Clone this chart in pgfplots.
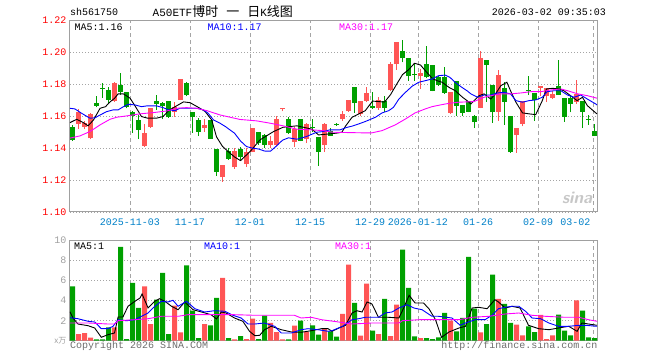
\documentclass[border=0pt]{standalone}
\usepackage{fontspec}
\setmainfont{Liberation Sans}
\setmonofont{Liberation Mono}
\newfontfamily\cjk{Noto Sans CJK SC}
\usepackage{pgfplots}
\usepackage{pgfplotstable}
\pgfplotsset{compat=1.18}
\definecolor{kred}{RGB}{255,85,85}
\definecolor{kgreen}{RGB}{0,160,0}
\definecolor{framegray}{RGB}{160,160,160}
\definecolor{gridgray}{RGB}{165,165,165}
\definecolor{datblue}{RGB}{0,128,200}
\definecolor{mamag}{RGB}{255,0,255}
\definecolor{txtgray}{RGB}{110,110,110}
\definecolor{volgray}{RGB}{160,160,160}
\newcommand{\mono}{\ttfamily\fontsize{10bp}{12bp}\selectfont}

\pgfplotstableread{
i o h l c v
1 1.1550 1.1648 1.1523 1.1628 0.67
2 1.1535 1.1570 1.1520 1.1555 0.77
3 1.1462 1.1620 1.1455 1.1614 0.30
7 1.1697 1.1816 1.1690 1.1806 1.34
12 1.1415 1.1553 1.1410 1.1498 5.44
13 1.1535 1.1654 1.1529 1.1650 1.67
17 1.1628 1.1690 1.1598 1.1660 3.50
18 1.1702 1.1835 1.1700 1.1833 0.83
22 1.1528 1.1580 1.1503 1.1545 1.67
25 1.1217 1.1295 1.1190 1.1294 6.27
27 1.1280 1.1400 1.1270 1.1385 0.14
29 1.1300 1.1400 1.1282 1.1375 0.17
30 1.1379 1.1527 1.1373 1.1525 2.20
33 1.1418 1.1477 1.1400 1.1446 1.77
34 1.1421 1.1602 1.1415 1.1581 0.87
35 1.1643 1.1652 1.1630 1.1650 0.14
37 1.1438 1.1535 1.1410 1.1519 1.50
39 1.1456 1.1556 1.1431 1.1552 0.87
42 1.1417 1.1556 1.1375 1.1552 1.27
45 1.1580 1.1635 1.1572 1.1612 2.67
46 1.1632 1.1702 1.1628 1.1701 7.60
48 1.1612 1.1696 1.1601 1.1695 0.50
49 1.1696 1.1783 1.1690 1.1746 5.70
51 1.1650 1.1719 1.1642 1.1701 0.67
53 1.1762 1.1940 1.1756 1.1925 0.47
54 1.1925 1.2065 1.1892 1.2065 3.60
58 1.1855 1.1896 1.1771 1.1870 0.27
63 1.1621 1.1750 1.1615 1.1750 2.00
68 1.1650 1.2006 1.1650 1.1963 0.83
71 1.1629 1.1892 1.1573 1.1858 4.17
74 1.1483 1.1527 1.1371 1.1527 1.60
75 1.1552 1.1698 1.1537 1.1698 0.54
78 1.1777 1.1792 1.1729 1.1792 2.57
79 1.1729 1.1775 1.1688 1.1775 0.17
80 1.1713 1.1760 1.1708 1.1740 0.54
84 1.1692 1.1829 1.1677 1.1740 4.04
}\redtab

\pgfplotstableread{
i o h l c v
0 1.1535 1.1545 1.1445 1.1450 5.44
4 1.1684 1.1724 1.1656 1.1666 0.14
5 1.1778 1.1808 1.1715 1.1772 0.14
6 1.1765 1.1781 1.1681 1.1701 1.34
8 1.1795 1.1868 1.1735 1.1752 9.37
9 1.1753 1.1755 1.1650 1.1660 0.17
10 1.1628 1.1632 1.1495 1.1600 5.77
11 1.1576 1.1607 1.1457 1.1514 3.27
14 1.1696 1.1733 1.1640 1.1677 4.10
15 1.1681 1.1688 1.1580 1.1667 6.77
16 1.1695 1.1697 1.1590 1.1593 0.67
19 1.1806 1.1816 1.1724 1.1734 7.54
20 1.1628 1.1629 1.1497 1.1597 3.00
21 1.1576 1.1586 1.1475 1.1503 0.27
23 1.1576 1.1578 1.1458 1.1460 1.54
24 1.1394 1.1395 1.1225 1.1252 4.27
26 1.1380 1.1400 1.1327 1.1335 0.27
28 1.1396 1.1406 1.1327 1.1346 0.47
31 1.1500 1.1504 1.1420 1.1431 0.17
32 1.1483 1.1490 1.1400 1.1421 2.50
36 1.1583 1.1598 1.1488 1.1494 0.14
38 1.1583 1.1585 1.1442 1.1448 2.00
40 1.1535 1.1583 1.1500 1.1525 1.54
41 1.1467 1.1467 1.1290 1.1379 0.60
43 1.1510 1.1525 1.1475 1.1479 0.93
44 1.1548 1.1558 1.1542 1.1545 0.40
47 1.1783 1.1783 1.1621 1.1683 3.77
50 1.1663 1.1752 1.1644 1.1652 1.00
52 1.1694 1.1725 1.1627 1.1652 4.17
55 1.2008 1.2080 1.1938 1.1963 9.10
56 1.1963 1.1965 1.1823 1.1850 5.27
57 1.1860 1.1927 1.1823 1.1856 0.44
59 1.1927 1.2042 1.1838 1.1844 0.27
60 1.1920 1.1920 1.1756 1.1760 0.17
61 1.1844 1.1854 1.1792 1.1796 0.34
62 1.1844 1.1910 1.1740 1.1746 2.77
64 1.1823 1.1823 1.1604 1.1663 0.93
65 1.1673 1.1673 1.1604 1.1621 2.27
66 1.1698 1.1698 1.1625 1.1627 8.37
67 1.1600 1.1610 1.1525 1.1563 3.20
69 1.1954 1.1954 1.1692 1.1923 1.67
70 1.1796 1.1796 1.1558 1.1625 6.60
72 1.1775 1.1813 1.1546 1.1692 3.67
73 1.1600 1.1600 1.1371 1.1375 1.77
76 1.1762 1.1854 1.1733 1.1758 1.44
77 1.1744 1.1744 1.1573 1.1704 0.87
81 1.1792 1.1954 1.1733 1.1733 2.60
82 1.1713 1.1713 1.1567 1.1594 1.00
83 1.1713 1.1729 1.1625 1.1677 0.54
85 1.1694 1.1694 1.1525 1.1629 3.00
86 1.1582 1.1608 1.1546 1.1578 0.34
87 1.1510 1.1552 1.1475 1.1475 0.27
}\greentab

\pgfplotsset{
  kpanel/.style={
    scale only axis, width=527bp,
    xmin=-0.417, xmax=87.417,
    axis line style={draw=framegray, line width=1bp},
    tick style={draw=none}, major tick length=0pt,
    xtick={9.583,19.583,29.583,39.583,49.583,57.583,67.583,77.583},
    extra x ticks={86.75},
    xmajorgrids, ymajorgrids,
    x grid style={draw=gridgray, dash pattern=on 4bp off 3bp, line width=0.9bp},
    y grid style={draw=gridgray, dash pattern=on 1bp off 2bp, line width=0.9bp},
  },
}

\begin{document}
\begin{tikzpicture}
\path[use as bounding box] (0bp,0bp) rectangle (660bp,360bp);

% ---------- price panel ----------
\begin{axis}[kpanel,
  at={(70bp,148bp)}, anchor=south west, height=191.5bp,
  ymin=1.10, ymax=1.22,
  xticklabels={2025-11-03,11-17,12-01,12-15,12-29,2026-01-12,01-26,02-09},
  extra x tick labels={03-02},
  extra x tick style={grid=major, xticklabel style={anchor=north east, xshift=1bp}},
  xticklabel style={font=\mono, text=datblue, yshift=-3bp},
  ytick={1.10,1.12,1.14,1.16,1.18,1.20,1.22},
  yticklabels={1.10,1.12,1.14,1.16,1.18,1.20,1.22},
  yticklabel style={font=\mono, text=red},
]
% wicks
\addplot[draw=none, mark=none, forget plot,
  error bars/.cd, y dir=plus, y explicit, error mark=none,
  error bar style={draw=kred, line width=1bp, solid}]
  table[x=i, y=l, y error plus expr={\thisrow{h}-\thisrow{l}}] {\redtab};
\addplot[draw=none, mark=none, forget plot,
  error bars/.cd, y dir=plus, y explicit, error mark=none,
  error bar style={draw=kgreen, line width=1bp, solid}]
  table[x=i, y=l, y error plus expr={\thisrow{h}-\thisrow{l}}] {\greentab};
% bodies
\addplot[draw=none, mark=none, forget plot,
  error bars/.cd, y dir=plus, y explicit, error mark=none,
  error bar style={draw=kred, line width=5bp, solid, line cap=butt}]
  table[x=i, y=o, y error plus expr={max(\thisrow{c}-\thisrow{o},0.0006)}] {\redtab};
\addplot[draw=none, mark=none, forget plot,
  error bars/.cd, y dir=plus, y explicit, error mark=none,
  error bar style={draw=kgreen, line width=5bp, solid, line cap=butt}]
  table[x=i, y=c, y error plus expr={max(\thisrow{o}-\thisrow{c},0.0006)}] {\greentab};

% MA5
\addplot[black, line width=0.9bp, mark=none] coordinates {
(-0.42,1.1560) (0.7,1.1581) (1.8,1.1560) (2.6,1.1540) (3.5,1.1577) (4.6,1.1650) (5.5,1.1660) (6.25,1.1690) (7.0,1.1712) (7.6,1.1740) (8.5,1.1740) (9.6,1.1713) (10.5,1.1660) (11.5,1.1598) (12.5,1.1588) (14,1.1588) (15.1,1.1598) (16,1.1635) (17.1,1.1660) (18.5,1.1690) (19.6,1.1685) (21.25,1.1650) (22.1,1.1630) (23.2,1.1577) (24,1.1471) (25,1.1411) (26,1.1377) (27,1.1345) (28,1.1322) (29.6,1.1379) (31.25,1.1452) (33.5,1.1504) (35.1,1.1531) (37.4,1.1540) (38.5,1.1531) (39.9,1.1519) (41,1.1483) (42.4,1.1488) (44,1.1494) (44.9,1.1500) (45.5,1.1538) (46.6,1.1594) (48.8,1.1635) (50,1.1695) (52,1.1689) (53,1.1735) (54,1.1799) (55,1.1861) (56,1.1891) (57,1.1932) (58,1.1921) (59,1.1877) (60,1.1836) (60.75,1.1823) (61.6,1.1813) (62.75,1.1781) (63.8,1.1760) (65,1.1719) (65.75,1.1698) (66.4,1.1677) (67.75,1.1729) (68.6,1.1740) (69.7,1.1708) (70.5,1.1740) (71.4,1.1792) (72.4,1.1813) (73,1.1760) (73.9,1.1688) (75,1.1621) (76.1,1.1615) (77.2,1.1610) (78.3,1.1698) (79,1.1771) (80,1.1775) (81.1,1.1771) (81.9,1.1760) (83,1.1729) (84.1,1.1698) (85,1.1719) (85.8,1.1667) (87.2,1.1621) (87.42,1.1615)
};
% MA10
\addplot[blue, line width=0.9bp, mark=none] coordinates {
(-0.42,1.1650) (0.4,1.1646) (1.5,1.1619) (2.9,1.1588) (3.75,1.1590) (4.6,1.1608) (5.7,1.1629) (6.8,1.1640) (7.6,1.1640) (8.5,1.1660) (9.3,1.1675) (10.4,1.1671) (11.5,1.1660) (12.4,1.1665) (14,1.1665) (15.1,1.1654) (16,1.1640) (17.1,1.1635) (17.9,1.1650) (19,1.1650) (20.7,1.1650) (21.8,1.1640) (22.6,1.1619) (23.5,1.1577) (24.6,1.1556) (25.5,1.1535) (26,1.1521) (27,1.1494) (28,1.1445) (29,1.1410) (30,1.1400) (31,1.1395) (32,1.1382) (33,1.1381) (34,1.1414) (35,1.1450) (36,1.1465) (37.4,1.1456) (39,1.1473) (40.7,1.1500) (41.8,1.1504) (42.9,1.1515) (44.6,1.1515) (45.7,1.1530) (46.6,1.1538) (47.7,1.1552) (48.8,1.1567) (50.5,1.1594) (51.6,1.1621) (52.7,1.1635) (53.5,1.1656) (54.4,1.1708) (55.5,1.1750) (56.6,1.1788) (57.7,1.1813) (58.8,1.1823) (59.9,1.1833) (61,1.1854) (62.1,1.1858) (62.9,1.1844) (63.75,1.1813) (64.9,1.1781) (65.75,1.1760) (66.4,1.1740) (67.5,1.1719) (68.6,1.1733) (69.7,1.1733) (70.8,1.1746) (71.9,1.1750) (73,1.1740) (73.9,1.1698) (75,1.1688) (76.1,1.1698) (77.2,1.1702) (78.3,1.1719) (79.1,1.1754) (80.25,1.1760) (81.4,1.1760) (82.5,1.1733) (83.6,1.1719) (84.7,1.1733) (85.8,1.1708) (87.2,1.1677) (87.42,1.1671)
};
% MA30
\addplot[mamag, line width=0.9bp, mark=none] coordinates {
(-0.42,1.1463) (1.25,1.1477) (2.9,1.1504) (4.6,1.1546) (6.25,1.1581) (7.4,1.1594) (9,1.1602) (11.25,1.1615) (13.5,1.1623) (15.7,1.1633) (17.4,1.1650) (19,1.1654) (20.7,1.1650) (22.4,1.1635) (24.6,1.1608) (26.25,1.1594) (27.9,1.1580) (30.7,1.1571) (33,1.1556) (35.1,1.1540) (37.4,1.1519) (39.6,1.1515) (41.8,1.1510) (43.25,1.1500) (45.5,1.1498) (48.5,1.1496) (49.9,1.1496) (51.6,1.1510) (53.8,1.1546) (55.5,1.1583) (57.1,1.1621) (58.8,1.1646) (59.9,1.1660) (61.6,1.1673) (62.75,1.1681) (64.4,1.1688) (66.9,1.1692) (68.6,1.1719) (70.25,1.1733) (71.4,1.1740) (73,1.1740) (74.75,1.1746) (76.4,1.1754) (78.1,1.1754) (79.75,1.1765) (81.4,1.1771) (82.5,1.1760) (84.25,1.1740) (85.8,1.1729) (87.42,1.1713)
};
\end{axis}

% ---------- volume panel ----------
\begin{axis}[kpanel,
  at={(70bp,19.3bp)}, anchor=south west, height=100bp,
  ymin=0, ymax=10,
  xticklabels={}, extra x tick labels={},
  extra x tick style={grid=major},
  ytick={0,2,4,6,8,10},
  yticklabels={{\cjk\fontsize{8bp}{9bp}\selectfont x万},2,4,6,8,10},
  yticklabel style={font=\mono, text=volgray},
]
\addplot[ybar, bar width=5bp, bar shift=0pt, fill=kred, draw=none] table[x=i, y=v] {\redtab};
\addplot[ybar, bar width=5bp, bar shift=0pt, fill=kgreen, draw=none] table[x=i, y=v] {\greentab};
% vol MA5
\addplot[black, line width=0.9bp, mark=none] coordinates {
(-0.42,2.9) (0.08,2.27) (0.9,1.67) (2.6,1.5) (3.7,1.27) (4.8,0.34) (5.9,0.6) (7.0,0.77) (7.6,2.37) (8.4,2.37) (9.25,3.44) (10.4,3.94) (11.25,4.27) (11.6,4.67) (12.0,4.1) (12.6,3.27) (13.7,3.94) (14.5,4.2) (15.4,3.94) (16.5,3.44) (17.6,3.1) (18.7,3.87) (20.1,3.1) (21.5,2.87) (23.1,2.6) (24,2.17) (24.8,2.87) (25.6,2.77) (27,2.27) (28.4,1.94) (29.5,0.94) (30.4,0.5) (31.2,0.54) (32,1.1) (33.1,1.44) (34.8,1.1) (36.5,0.87) (38.1,0.84) (39.8,1.0) (41.5,1.2) (42.6,1.2) (43.25,0.94) (44.4,1.27) (45.5,1.54) (46.6,2.77) (47.4,3.0) (48.25,2.87) (49.1,3.87) (49.9,3.67) (51,2.34) (52.7,2.34) (54.4,2.27) (55.2,3.27) (56.1,4.54) (57.1,3.77) (58.5,3.77) (59.4,3.2) (60.5,2.1) (61.5,0.34) (62.75,0.87) (64.4,1.27) (65.5,1.44) (66.6,3.27) (67.7,3.34) (69.1,3.2) (70.4,4.1) (71,3.87) (72.1,3.27) (73.25,3.44) (74.6,3.27) (76,1.54) (77.7,1.2) (79.4,1.1) (81,1.27) (82.7,1.44) (84.1,0.94) (84.9,1.77) (86,1.67) (87.42,1.54)
};
% vol MA10
\addplot[blue, line width=0.9bp, mark=none] coordinates {
(-0.42,2.3) (0.9,2.2) (2.6,1.94) (3.7,1.87) (4.8,1.2) (5.9,1.2) (6.75,1.44) (7.6,2.1) (9.0,2.0) (10.4,2.1) (11.5,2.44) (12.6,2.77) (13.4,3.27) (14.8,3.94) (15.9,3.87) (16.75,4.04) (17.6,3.44) (19,3.94) (20.4,3.2) (22,2.87) (23.7,3.0) (25.4,2.94) (26.75,2.54) (28.1,2.27) (29.25,1.67) (30.4,1.67) (32,1.77) (33.7,1.44) (34.8,0.77) (36.5,0.77) (38.1,1.1) (39.25,1.2) (40.9,1.1) (42.6,0.94) (43.25,1.0) (45,1.44) (46.6,2.1) (47.7,2.2) (48.8,2.34) (51,2.34) (52.1,2.77) (53.25,2.87) (54.4,3.27) (55.75,3.6) (56.9,3.27) (58.25,3.1) (59.9,2.44) (61,2.44) (63.25,2.27) (64.6,1.54) (65.5,1.77) (67.1,2.1) (68.75,2.1) (69.9,2.54) (71,3.2) (72.1,3.34) (73.25,3.44) (74.4,3.44) (75.5,2.94) (76.6,2.27) (78,2.2) (79.4,1.77) (81,1.44) (82.7,1.44) (84.4,1.54) (85.5,1.54) (87.42,1.44)
};
% vol MA30
\addplot[mamag, line width=0.9bp, mark=none] coordinates {
(-0.42,1.77) (2.6,1.77) (5.9,1.67) (7.0,1.67) (7.6,2.0) (10.4,2.1) (12.6,2.2) (14.8,2.44) (17.6,2.44) (19.25,2.6) (21.5,2.6) (24.25,2.6) (27,2.6) (30.4,2.54) (33.7,2.54) (37,2.54) (38.1,2.27) (39.8,2.34) (41.5,2.1) (44,1.9) (46.6,1.67) (49.9,1.77) (54.4,1.77) (55,2.0) (57.8,2.1) (61.1,2.1) (64.4,2.1) (66.6,2.34) (69.4,2.44) (72.1,2.67) (74.4,2.77) (76.6,2.54) (78.8,2.44) (82.1,2.34) (84.4,2.34) (86,2.1) (87.42,1.94)
};
\end{axis}

% ---------- texts ----------
\node[anchor=west, inner sep=0pt, font=\mono] at (70bp,348bp) {sh561750};
\node[anchor=west, inner sep=0pt] at (152.5bp,348bp) {{\ttfamily\fontsize{11bp}{13bp}\selectfont A50ETF}{\cjk\fontsize{13bp}{15bp}\selectfont 博时\hspace{8bp}一\hspace{8bp}日}{\ttfamily\fontsize{11bp}{13bp}\selectfont K}{\cjk\fontsize{13bp}{15bp}\selectfont 线图}};
\node[anchor=east, inner sep=0pt, font=\mono] at (606bp,348bp) {2026-03-02 09:35:03};
\node[anchor=west, inner sep=0pt, font=\mono] at (74.5bp,333bp) {MA5:1.16};
\node[anchor=west, inner sep=0pt, font=\mono, text=blue] at (207.5bp,333bp) {MA10:1.17};
\node[anchor=west, inner sep=0pt, font=\mono, text=mamag] at (339bp,333bp) {MA30:1.17};
\node[anchor=west, inner sep=0pt, font=\mono] at (74bp,114bp) {MA5:1};
\node[anchor=west, inner sep=0pt, font=\mono, text=blue] at (204bp,114bp) {MA10:1};
\node[anchor=west, inner sep=0pt, font=\mono, text=mamag] at (335bp,114bp) {MA30:1};
\node[anchor=west, inner sep=0pt, font=\mono, text=txtgray] at (70bp,14.3bp) {Copyright 2026 SINA.COM};
\node[anchor=east, inner sep=0pt, font=\mono, text=txtgray] at (597.5bp,14.3bp) {http://finance.sina.com.cn};
\node[anchor=center, inner sep=0pt, text=black!22, font=\sffamily\bfseries\itshape\fontsize{17bp}{17bp}\selectfont] at (577bp,162bp) {sina};
\end{tikzpicture}
\end{document}
